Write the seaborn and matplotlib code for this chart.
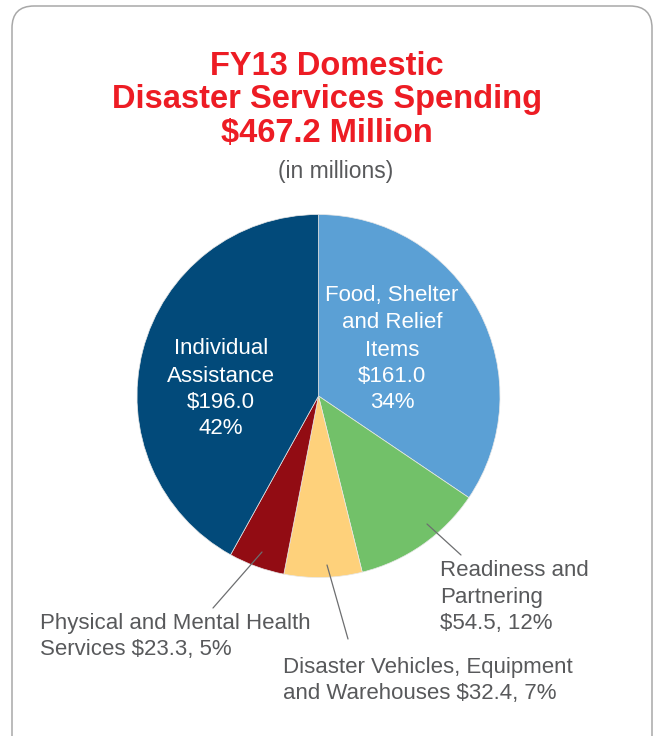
import matplotlib
matplotlib.use("Agg")
import matplotlib.pyplot as plt
from matplotlib.patches import FancyBboxPatch
import seaborn as sns

# ---- data ----
categories = ["Food, Shelter and Relief Items", "Readiness and Partnering",
              "Disaster Vehicles, Equipment and Warehouses",
              "Physical and Mental Health Services", "Individual Assistance"]
values = [161.0, 54.5, 32.4, 23.3, 196.0]
percents = ["34%", "12%", "7%", "5%", "42%"]
colors = ["#5ba0d5", "#72c169", "#fed17b", "#920c13", "#024a7a"]

title_lines = ["FY13 Domestic", "Disaster Services Spending", "$467.2 Million"]
subtitle = "(in millions)"

sns.set_theme(style="white")
plt.rcParams["font.family"] = ["Liberation Sans", "DejaVu Sans"]

W, H = 654, 736
fig = plt.figure(figsize=(W / 100, H / 100), dpi=100)
fig.patch.set_facecolor("white")

# background axes in pixel coordinates
bg = fig.add_axes([0, 0, 1, 1])
bg.set_xlim(0, W)
bg.set_ylim(H, 0)
bg.axis("off")

box = FancyBboxPatch((12, 6), 640, 800, boxstyle="round,pad=0,rounding_size=22",
                     facecolor="white", edgecolor="#a8a8a8", linewidth=1.1)
bg.add_patch(box)

red = "#ed1c24"
gray = "#58595b"
for txt, yb in zip(title_lines, [75, 108, 142]):
    bg.text(327, yb, txt, ha="center", va="baseline", fontsize=23.5,
            fontweight="bold", color=red)
bg.text(336, 178, subtitle, ha="center", va="baseline", fontsize=16.5, color=gray)

# pie axes
cx, cy, r = 318.5, 396, 181.5
pie_ax = fig.add_axes([(cx - r) / W, (H - cy - r) / H, 2 * r / W, 2 * r / H])
pie_ax.pie(values, colors=colors, startangle=90, counterclock=False, radius=1,
           wedgeprops=dict(edgecolor="#e8e8e8", linewidth=0.5))
pie_ax.set_xlim(-1, 1)
pie_ax.set_ylim(-1, 1)
pie_ax.set_aspect("auto")
pie_ax.axis("off")

# overlay axes for labels and leader lines
top = fig.add_axes([0, 0, 1, 1])
top.set_xlim(0, W)
top.set_ylim(H, 0)
top.axis("off")
top.patch.set_alpha(0)

fs = 16
# inside labels
ind = ["Individual", "Assistance", f"${values[4]:.1f}", percents[4]]
for txt, y in zip(ind, [349, 376, 402, 428]):
    top.text(221, y, txt, ha="center", va="center", fontsize=fs, color="white")
food = ["Food, Shelter", "and Relief", "Items", f"${values[0]:.1f}", percents[0]]
for txt, y in zip(food, [296, 323, 350, 376, 403]):
    top.text(392, y, txt, ha="center", va="center", fontsize=fs, color="white")

lc = "#6d6e70"
top.plot([427, 461], [524, 555], color=lc, lw=0.9)
top.plot([262, 213], [552, 608], color=lc, lw=0.9)
top.plot([327, 348], [565, 639], color=lc, lw=0.9)

read = ["Readiness and", "Partnering", f"${values[1]:.1f}, {percents[1]}"]
for txt, y in zip(read, [570, 597, 623]):
    top.text(440, y, txt, ha="left", va="center", fontsize=fs, color=gray)
health = ["Physical and Mental Health", f"Services ${values[3]:.1f}, {percents[3]}"]
for txt, y in zip(health, [623, 650]):
    top.text(40, y, txt, ha="left", va="center", fontsize=fs, color=gray)
veh = ["Disaster Vehicles, Equipment", f"and Warehouses ${values[2]:.1f}, {percents[2]}"]
for txt, y in zip(veh, [668, 694]):
    top.text(283, y, txt, ha="left", va="center", fontsize=fs, color=gray)

fig.savefig("out.png", dpi=100, facecolor="white")
